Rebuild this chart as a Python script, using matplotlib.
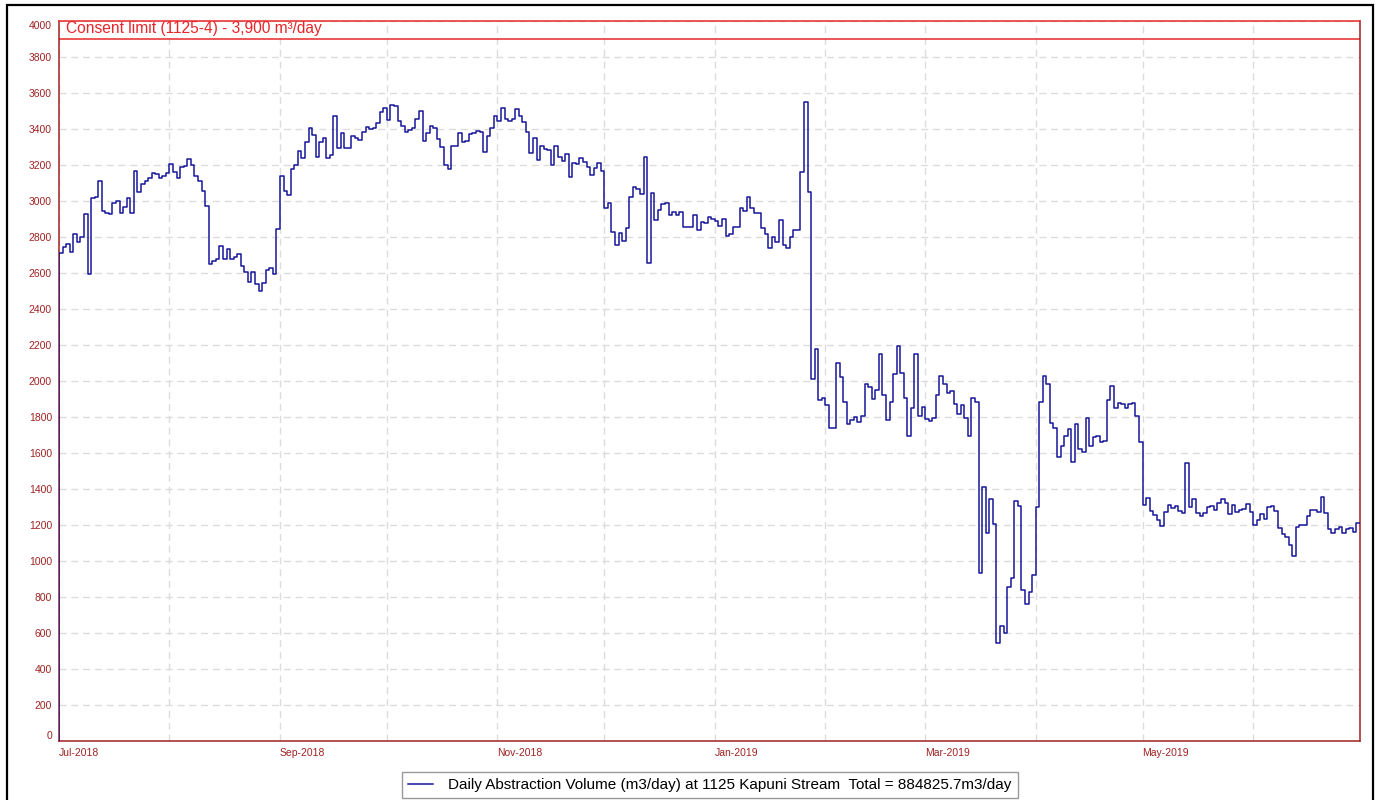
"""Daily abstraction volume at 1125 Kapuni Stream, Jul-2018 to Jun-2019."""

import matplotlib

matplotlib.use("Agg")

import matplotlib.pyplot as plt
import numpy as np
from matplotlib.patches import Rectangle

plt.rcParams["font.family"] = ["Liberation Sans", "DejaVu Sans"]

# daily volumes (m3/day), one list per month
JUL_2018 = [2713, 2746, 2761, 2719, 2815, 2774, 2802, 2928, 2595, 3015, 3020, 3113, 2945, 2932, 2926, 2991,
            2998, 2932, 2965, 3019, 2932, 3169, 3050, 3093, 3113, 3126, 3157, 3148, 3126, 3139, 3157]
AUG_2018 = [3204, 3159, 3126, 3191, 3194, 3231, 3198, 3139, 3111, 3056, 2974, 2650, 2668, 2676, 2748, 2676,
            2735, 2676, 2687, 2706, 2639, 2604, 2552, 2604, 2539, 2498, 2543, 2617, 2626, 2595, 2845]
SEP_2018 = [3137, 3056, 3033, 3178, 3200, 3278, 3237, 3330, 3407, 3367, 3243, 3330, 3348, 3241, 3256, 3472,
            3296, 3380, 3293, 3296, 3363, 3348, 3339, 3385, 3413, 3398, 3404, 3431, 3496, 3515]
OCT_2018 = [3450, 3533, 3530, 3446, 3417, 3383, 3394, 3404, 3457, 3502, 3335, 3376, 3417, 3407, 3343, 3298,
            3200, 3178, 3304, 3306, 3376, 3330, 3335, 3372, 3380, 3391, 3385, 3270, 3363, 3404, 3472]
NOV_2018 = [3446, 3515, 3456, 3446, 3456, 3513, 3474, 3441, 3385, 3269, 3348, 3228, 3307, 3289, 3283, 3200,
            3307, 3243, 3222, 3259, 3131, 3213, 3206, 3241, 3215, 3187, 3144, 3182, 3209, 3169]
DEC_2018 = [2963, 2991, 2830, 2757, 2820, 2780, 2852, 3024, 3080, 3065, 3039, 3243, 2654, 3043, 2895, 2950,
            2984, 2987, 2922, 2941, 2922, 2941, 2854, 2857, 2854, 2922, 2839, 2885, 2880, 2909, 2898]
JAN_2019 = [2889, 2863, 2902, 2806, 2817, 2857, 2854, 2959, 2943, 3024, 2959, 2935, 2935, 2852, 2817, 2741,
            2802, 2774, 2895, 2756, 2737, 2802, 2839, 2839, 3163, 3548, 3052, 2011, 2178, 1894, 1904]
FEB_2019 = [1867, 1737, 1737, 2098, 2024, 1885, 1759, 1783, 1798, 1774, 1806, 1982, 1965, 1900, 1950, 2148,
            1922, 1783, 1885, 2037, 2195, 2043, 1907, 1694, 1848, 2148, 1807, 1857]
MAR_2019 = [1787, 1778, 1796, 1922, 2028, 1983, 1931, 1946, 1870, 1815, 1865, 1793, 1696, 1907, 1881, 935,
            1413, 1157, 1344, 1206, 543, 641, 598, 854, 904, 1335, 1306, 839, 761, 830, 922]
APR_2019 = [1302, 1885, 2030, 1982, 1765, 1737, 1580, 1641, 1696, 1733, 1552, 1759, 1620, 1604, 1796, 1639,
            1691, 1696, 1663, 1667, 1894, 1972, 1848, 1880, 1870, 1848, 1872, 1876, 1806, 1663]
MAY_2019 = [1311, 1348, 1278, 1256, 1228, 1194, 1274, 1309, 1293, 1306, 1278, 1269, 1546, 1298, 1343, 1269,
            1252, 1265, 1298, 1307, 1283, 1320, 1346, 1324, 1261, 1311, 1274, 1281, 1289, 1317, 1274]
JUN_2019 = [1198, 1228, 1261, 1232, 1302, 1306, 1278, 1185, 1148, 1135, 1089, 1028, 1189, 1198, 1202, 1250,
            1283, 1283, 1270, 1357, 1269, 1176, 1157, 1176, 1189, 1154, 1176, 1185, 1163, 1209]

START = "2018-07-01"
END = "2019-07-01"
CONSENT_LIMIT = 3900
CONSENT_TEXT = "Consent limit (1125-4) - 3,900 m³/day"
LEGEND_TEXT = "Daily Abstraction Volume (m3/day) at 1125 Kapuni Stream  Total = 884825.7m3/day"
Y_TICKS = list(range(0, 4001, 200))
LABELLED_MONTHS = [1, 3, 5, 7, 9, 11]

LINE_BLUE = "#16169a"
AXIS_RED = "#a02222"
LIMIT_RED = "#e8262a"
GRID_GREY = "#dcdcdc"

values = np.array([0] + JUL_2018 + AUG_2018 + SEP_2018 + OCT_2018 + NOV_2018 + DEC_2018
                  + JAN_2019 + FEB_2019 + MAR_2019 + APR_2019 + MAY_2019 + JUN_2019, dtype=float)
dates = np.arange(np.datetime64(START), np.datetime64(END) + 1, dtype="datetime64[D]")

month_ticks = np.arange(np.datetime64(START, "M"), np.datetime64(END, "M"), dtype="datetime64[M]")
month_ticks_d = month_ticks.astype("datetime64[D]")
month_labels = [
    m.astype(object).strftime("%b-%Y") if m.astype(object).month in LABELLED_MONTHS else ""
    for m in month_ticks_d
]

fig = plt.figure(figsize=(13.8, 8.0), dpi=100)
ax = fig.add_axes([59 / 1380, 1 - 741 / 800, (1360 - 59) / 1380, 720 / 800])

ax.plot(dates, values, drawstyle="steps-pre", color=LINE_BLUE, lw=1.1,
        label=LEGEND_TEXT, zorder=3)

ax.axhline(CONSENT_LIMIT, color=LIMIT_RED, lw=1.1, zorder=2)
ax.text(0.005, CONSENT_LIMIT + 15, CONSENT_TEXT, transform=ax.get_yaxis_transform(),
        color=LIMIT_RED, fontsize=11.2, ha="left", va="bottom")

ax.set_xlim(np.datetime64(START), np.datetime64(END))
ax.set_ylim(0, 4000)
ax.set_yticks(Y_TICKS)
ax.set_xticks(month_ticks_d, month_labels, ha="left")

ax.grid(True, color=GRID_GREY, linestyle=(0, (5, 3.5)), lw=1, zorder=0)
ax.tick_params(axis="both", length=0, labelsize=7.5, labelcolor=AXIS_RED)
ax.tick_params(axis="y", pad=5)
ax.tick_params(axis="x", pad=5)

# end labels sit inside the plot range, as in the original
y_labels = ax.get_yticklabels()
y_labels[0].set_va("bottom")
y_labels[-1].set_va("top")

for side in ("left", "bottom", "right"):
    ax.spines[side].set_color(AXIS_RED)
    ax.spines[side].set_linewidth(1.1)
ax.spines["top"].set_color(LIMIT_RED)
ax.spines["top"].set_linewidth(1.1)

leg = fig.legend(loc="lower center", bbox_to_anchor=(710 / 1380, 2 / 800), fontsize=11,
                 frameon=True, fancybox=False, edgecolor="#808080", handlelength=1.6,
                 borderpad=0.4, handletextpad=1.0, borderaxespad=0)
leg.get_frame().set_linewidth(1.0)

# outer frame around the whole picture
fig.patches.append(Rectangle((6.5 / 1380, -0.05), (1373 - 6.5) / 1380, 1.05 - 5 / 800,
                             transform=fig.transFigure, fill=False, edgecolor="black", lw=1.6))

fig.savefig("out.png", dpi=100)
plt.close(fig)
